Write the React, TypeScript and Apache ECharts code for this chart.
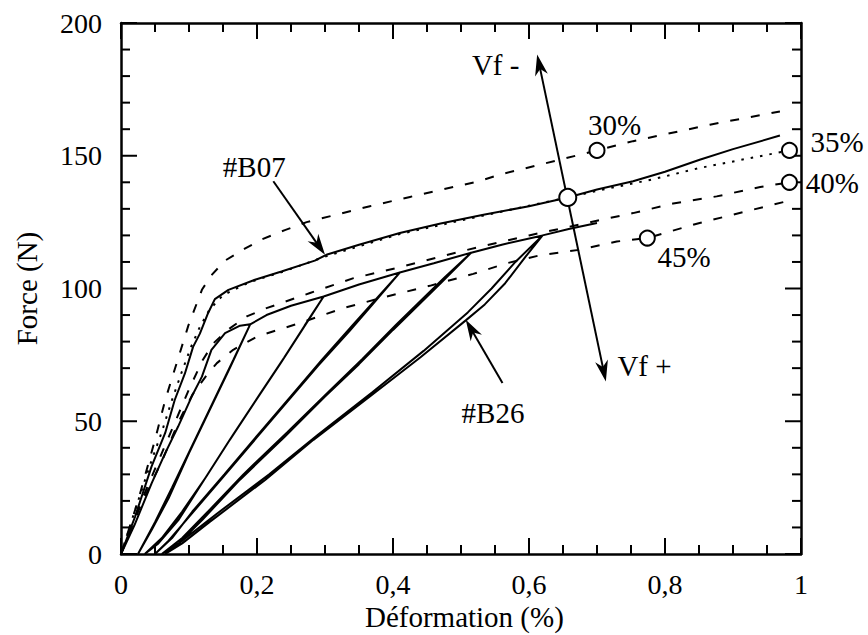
import React, { useEffect, useRef } from "react";
import * as echarts from "echarts";

type P = [number, number];

// Model curves (dashed / dotted), by fibre volume fraction
const curve30: P[] = [
  [0, 0], [0.025, 20], [0.05, 43], [0.065, 58], [0.082, 72], [0.099, 86], [0.119, 99.5],
  [0.133, 105], [0.153, 110.5], [0.182, 115], [0.207, 118.5], [0.241, 122], [0.273, 125],
  [0.366, 131], [0.425, 134.5], [0.459, 136.5], [0.528, 140.5], [0.557, 142.9], [0.7, 152],
  [0.753, 155.5], [0.866, 161.7], [0.969, 166.7],
];
const curve35: P[] = [
  [0, 0], [0.02, 16], [0.042, 33], [0.06, 46], [0.075, 58], [0.09, 69], [0.103, 78],
  [0.115, 85], [0.13, 92], [0.15, 97.5], [0.19, 102.5], [0.24, 106.5], [0.3, 112],
  [0.41, 120.5], [0.533, 127.5], [0.657, 134.3], [0.704, 137], [0.78, 141], [0.851, 145.4],
  [0.983, 152],
];
const curve40: P[] = [
  [0, 0], [0.03, 20], [0.06, 38], [0.08, 50], [0.1, 62], [0.12, 73], [0.136, 79.4],
  [0.16, 85], [0.185, 89.5], [0.214, 92.6], [0.278, 98.3], [0.342, 103.9], [0.41, 108],
  [0.5, 114], [0.6, 120], [0.685, 124.7], [0.753, 128.4], [0.812, 132], [0.876, 134.7],
  [0.94, 138.2], [0.983, 140],
];
const curve45: P[] = [
  [0, 0], [0.03, 19], [0.062, 36], [0.085, 50], [0.105, 60], [0.125, 67], [0.141, 71.9],
  [0.165, 76.9], [0.2, 81.9], [0.263, 87], [0.327, 92.6], [0.391, 97], [0.454, 101],
  [0.518, 105.5], [0.567, 109.5], [0.616, 112.5], [0.675, 114.6], [0.729, 117.7],
  [0.774, 119], [0.851, 124.7], [0.9, 127.8], [0.959, 131.6], [0.975, 132.6],
];

// Experimental curves
const b07: P[] = [
  [0, 0], [0.0206, 14], [0.045, 33], [0.065, 45.6], [0.079, 58], [0.094, 68], [0.106, 78],
  [0.116, 83], [0.128, 90.7], [0.138, 96], [0.158, 99.5], [0.197, 103.3], [0.236, 106.4],
  [0.285, 110.5], [0.302, 112.7], [0.35, 116.5], [0.41, 120.9], [0.47, 124.5],
  [0.533, 127.8], [0.6, 131], [0.657, 134.3], [0.7, 137.3], [0.753, 140.4], [0.8, 144],
  [0.851, 148.5], [0.9, 152.5], [0.969, 157.6],
];
const b26: P[] = [
  [0, 0], [0.02, 11], [0.045, 26.6], [0.065, 38], [0.084, 48], [0.104, 59.3], [0.119, 66.8],
  [0.133, 76.9], [0.153, 83.2], [0.175, 86], [0.19, 86.5],
  [0.16, 70], [0.13, 54], [0.1, 38], [0.07, 21], [0.045, 9], [0.025, 0],
  [0.05, 12], [0.075, 25], [0.105, 41], [0.135, 57], [0.165, 73], [0.19, 86.5],
  [0.214, 90], [0.25, 93.5], [0.298, 97],
  [0.268, 85], [0.235, 72], [0.2, 58.5], [0.16, 43], [0.12, 27], [0.085, 13], [0.055, 4], [0.035, 0],
  [0.06, 6], [0.09, 16], [0.125, 29], [0.165, 45], [0.205, 60.5], [0.24, 74], [0.27, 86], [0.298, 97],
  [0.35, 101.5], [0.41, 106],
  [0.37, 94], [0.336, 84], [0.29, 71], [0.25, 59], [0.2, 44], [0.147, 28], [0.1, 14], [0.07, 5], [0.05, 0],
  [0.075, 6], [0.105, 16], [0.152, 30], [0.205, 46], [0.255, 61], [0.295, 73], [0.34, 86], [0.375, 96], [0.41, 106],
  [0.46, 109.5], [0.515, 113.5],
  [0.47, 102], [0.4, 84.4], [0.35, 71.5], [0.3, 59.3], [0.24, 44], [0.175, 28], [0.12, 13], [0.085, 4], [0.06, 0],
  [0.09, 6], [0.128, 16], [0.18, 30], [0.245, 46], [0.305, 61], [0.355, 73.5], [0.405, 86.5], [0.475, 104], [0.515, 113.5],
  [0.56, 116.5], [0.62, 120],
  [0.595, 112], [0.565, 102], [0.535, 94], [0.507, 88], [0.44, 74], [0.366, 59.3], [0.283, 43], [0.212, 27.9], [0.13, 12], [0.09, 4], [0.065, 0],
  [0.095, 6], [0.14, 15], [0.218, 30], [0.29, 45], [0.37, 61], [0.445, 76.5], [0.51, 91], [0.545, 100], [0.58, 110], [0.62, 120],
  [0.66, 122.5], [0.7, 124.7],
];

// Marked points (open circles)
const circles: P[] = [[0.7, 152], [0.983, 152], [0.983, 140], [0.774, 119]];
const crossPoint: P[] = [[0.657, 134.3]];

// Tick positions
const xMajorTicks = [0, 0.2, 0.4, 0.6, 0.8, 1];
const xMinorTicks = [0.05, 0.1, 0.15, 0.25, 0.3, 0.35, 0.45, 0.5, 0.55, 0.65, 0.7, 0.75, 0.85, 0.9, 0.95];
const yMajorTicks = [0, 50, 100, 150, 200];
const yMinorTicks = [10, 20, 30, 40, 60, 70, 80, 90, 110, 120, 130, 140, 160, 170, 180, 190];

// Text annotations (the last one is the x-axis title, placed below the axis)
const annotationTexts = ["#B07", "#B26", "Vf -", "Vf +", "30%", "35%", "40%", "45%", "Déformation (%)"];
const annotationPos: P[] = [
  [0.196, 145.9], [0.547, 53.2], [0.516, 184], [0.73, 70.7],
  [0.726, 161.4], [1.014, 155.1], [1.007, 139.8], [0.828, 111.8], [0.505, -23.8],
];
const annotationAlign = ["center", "center", "left", "left", "center", "left", "left", "center", "center"];

// Arrows: [x0, y0, x1, y1, double-headed (1) or not (0)]
const arrows: number[][] = [
  [0.224, 140.4, 0.3, 112.7, 0],
  [0.561, 64.4, 0.507, 88.2, 0],
  [0.612, 188.1, 0.713, 65, 1],
];

const FONT = "'Liberation Serif', 'Times New Roman', serif";
const X_MIN = 0, X_MAX = 1, Y_MIN = 0, Y_MAX = 200;

const mkLine = () => ({ show: true, onZero: false, lineStyle: { color: "#000", width: 2.5 } });

function headPoints(tip: number[], from: number[]) {
  const dx = tip[0] - from[0], dy = tip[1] - from[1];
  const len = Math.hypot(dx, dy) || 1;
  const ux = dx / len, uy = dy / len, nx = -uy, ny = ux;
  const L = 21, W = 13;
  return [
    [tip[0], tip[1]],
    [tip[0] - L * ux + (W / 2) * nx, tip[1] - L * uy + (W / 2) * ny],
    [tip[0] - 0.7 * L * ux, tip[1] - 0.7 * L * uy],
    [tip[0] - L * ux - (W / 2) * nx, tip[1] - L * uy - (W / 2) * ny],
  ];
}

export default function App() {
  const ref = useRef<HTMLDivElement>(null);
  useEffect(() => {
    const chart = echarts.init(ref.current!, null, { renderer: "svg" });
    const fmt = (v: number) => String(Math.round(v * 10) / 10).replace(".", ",");
    const lineSeries = (data: P[], type: any, width = 2) => ({
      type: "line",
      data,
      showSymbol: false,
      z: 3,
      lineStyle: { color: "#000", width, type },
    });
    // tick items: [x, y, isMajor, isYAxis]
    const tickData: number[][] = [
      ...xMajorTicks.map((v) => [v, Y_MIN, 1, 0]),
      ...xMinorTicks.map((v) => [v, Y_MIN, 0, 0]),
      ...yMajorTicks.map((v) => [X_MIN, v, 1, 1]),
      ...yMinorTicks.map((v) => [X_MIN, v, 0, 1]),
    ];
    chart.setOption({
      animation: false,
      grid: { left: 121, right: 67, top: 23, bottom: 81 },
      xAxis: [
        {
          type: "value", min: X_MIN, max: X_MAX, interval: 0.2, position: "bottom",
          axisLine: mkLine(), axisTick: { show: false },
          axisLabel: { color: "#000", fontFamily: FONT, fontSize: 28, margin: 16, formatter: fmt },
          splitLine: { show: false },
        },
        {
          type: "value", min: X_MIN, max: X_MAX, interval: 0.2, position: "top",
          axisLine: mkLine(), axisTick: { show: false },
          axisLabel: { show: false }, splitLine: { show: false },
        },
      ],
      yAxis: [
        {
          type: "value", min: Y_MIN, max: Y_MAX, interval: 50, position: "left",
          name: "Force (N)", nameLocation: "middle", nameGap: 80, nameRotate: 90,
          nameTextStyle: { color: "#000", fontFamily: FONT, fontSize: 29 },
          axisLine: mkLine(), axisTick: { show: false },
          axisLabel: { color: "#000", fontFamily: FONT, fontSize: 28, margin: 19 },
          splitLine: { show: false },
        },
        {
          type: "value", min: Y_MIN, max: Y_MAX, interval: 50, position: "right",
          axisLine: mkLine(), axisTick: { show: false },
          axisLabel: { show: false }, splitLine: { show: false },
        },
      ],
      series: [
        {
          type: "custom", data: tickData, clip: false, z: 2,
          encode: { x: 0, y: 1 },
          renderItem: (params: any, api: any) => {
            const major = api.value(2) === 1;
            const isY = api.value(3) === 1;
            const len = major ? 16 : 9;
            const st = { stroke: "#000", lineWidth: 2 };
            if (!isY) {
              const v = api.value(0);
              const b = api.coord([v, Y_MIN]);
              const t = api.coord([v, Y_MAX]);
              return {
                type: "group",
                children: [
                  { type: "line", shape: { x1: b[0], y1: b[1], x2: b[0], y2: b[1] - len }, style: st },
                  { type: "line", shape: { x1: t[0], y1: t[1], x2: t[0], y2: t[1] + len }, style: st },
                ],
              };
            }
            const v = api.value(1);
            const l = api.coord([X_MIN, v]);
            const r = api.coord([X_MAX, v]);
            return {
              type: "group",
              children: [
                { type: "line", shape: { x1: l[0], y1: l[1], x2: l[0] + len, y2: l[1] }, style: st },
                { type: "line", shape: { x1: r[0], y1: r[1], x2: r[0] - len, y2: r[1] }, style: st },
              ],
            };
          },
        },
        lineSeries(curve30, [9, 12]),
        lineSeries(curve35, [2.5, 7]),
        lineSeries(curve40, [9, 12]),
        lineSeries(curve45, [9, 12]),
        lineSeries(b07, "solid"),
        lineSeries(b26, "solid"),
        {
          type: "custom", data: arrows, clip: false, z: 4,
          encode: { x: [0, 2], y: [1, 3] },
          renderItem: (params: any, api: any) => {
            const pa = api.coord([api.value(0), api.value(1)]);
            const pb = api.coord([api.value(2), api.value(3)]);
            const both = api.value(4) === 1;
            const dx = pb[0] - pa[0], dy = pb[1] - pa[1];
            const len = Math.hypot(dx, dy) || 1;
            const ux = dx / len, uy = dy / len;
            const s = both ? [pa[0] + 10 * ux, pa[1] + 10 * uy] : pa;
            const e = [pb[0] - 10 * ux, pb[1] - 10 * uy];
            const children: any[] = [
              { type: "line", shape: { x1: s[0], y1: s[1], x2: e[0], y2: e[1] }, style: { stroke: "#000", lineWidth: 2 } },
              { type: "polygon", shape: { points: headPoints(pb, pa) }, style: { fill: "#000" } },
            ];
            if (both) children.push({ type: "polygon", shape: { points: headPoints(pa, pb) }, style: { fill: "#000" } });
            return { type: "group", children };
          },
        },
        {
          type: "scatter", data: circles, symbol: "circle", symbolSize: 15, z: 5,
          itemStyle: { color: "#fff", borderColor: "#000", borderWidth: 2, opacity: 1 },
        },
        {
          type: "scatter", data: crossPoint, symbol: "circle", symbolSize: 17, z: 5,
          itemStyle: { color: "#fff", borderColor: "#000", borderWidth: 2, opacity: 1 },
        },
        {
          type: "custom", data: annotationPos, clip: false, z: 6,
          renderItem: (params: any, api: any) => {
            const p = api.coord([api.value(0), api.value(1)]);
            const i = params.dataIndex;
            return {
              type: "text", x: p[0], y: p[1],
              style: {
                text: annotationTexts[i], fill: "#000", fontFamily: FONT, fontSize: 29,
                align: annotationAlign[i], verticalAlign: "middle",
              },
            };
          },
        },
      ],
    });
    return () => chart.dispose();
  }, []);
  return (
    <div
      ref={ref}
      style={{ position: "absolute", left: 0, top: 0, width: 868, height: 635, background: "#fff" }}
    />
  );
}
